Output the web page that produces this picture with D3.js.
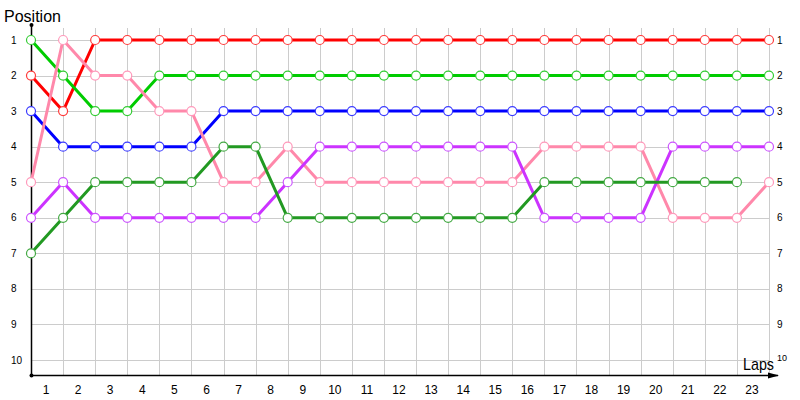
<!DOCTYPE html>
<html>
<head>
<meta charset="utf-8">
<script src="https://cdn.jsdelivr.net/npm/d3@7"></script>
<style>
  body { margin: 0; background: #fff; }
  text { font-family: "Liberation Sans", "DejaVu Sans", sans-serif; }
</style>
</head>
<body>
<div id="chart"></div>
<script>
// laps shown on the x axis, positions on the y axis
var laps = d3.range(1, 24);
var positions = d3.range(1, 11);

// position of each driver at laps 0..23 (null = no data)
var redPos       = [2, 3, 1, 1, 1, 1, 1, 1, 1, 1, 1, 1, 1, 1, 1, 1, 1, 1, 1, 1, 1, 1, 1, 1];
var greenPos     = [1, 2, 3, 3, 2, 2, 2, 2, 2, 2, 2, 2, 2, 2, 2, 2, 2, 2, 2, 2, 2, 2, 2, 2];
var bluePos      = [3, 4, 4, 4, 4, 4, 3, 3, 3, 3, 3, 3, 3, 3, 3, 3, 3, 3, 3, 3, 3, 3, 3, 3];
var pinkPos      = [5, 1, 2, 2, 3, 3, 5, 5, 4, 5, 5, 5, 5, 5, 5, 5, 4, 4, 4, 4, 6, 6, 6, 5];
var purplePos    = [6, 5, 6, 6, 6, 6, 6, 6, 5, 4, 4, 4, 4, 4, 4, 4, 6, 6, 6, 6, 4, 4, 4, 4];
var darkGreenPos = [7, 6, 5, 5, 5, 5, 4, 4, 6, 6, 6, 6, 6, 6, 6, 6, 5, 5, 5, 5, 5, 5, 5, null];

var series = [
    {name: "red", values: redPos, color: "#ff0000", marker: "#ff3b3b"},
    {name: "green", values: greenPos, color: "#00cc00", marker: "#33cc33"},
    {name: "blue", values: bluePos, color: "#0000ff", marker: "#3b3bff"},
    {name: "pink", values: pinkPos, color: "#ff88aa", marker: "#ff99bb"},
    {name: "purple", values: purplePos, color: "#cc33ff", marker: "#cc55ff"},
    {name: "darkgreen", values: darkGreenPos, color: "#229922", marker: "#44aa44"}
];

var width = 800, height = 400;
var svg = d3.select("#chart").append("svg")
    .attr("width", width)
    .attr("height", height);

var x = d3.scaleLinear().domain([0, 23]).range([31, 769]);
var y = d3.scaleLinear().domain([1, 10]).range([40, 360]);
var axisY = 375;

// grid
var grid = svg.append("g").attr("stroke", "#cccccc").attr("stroke-width", 1);
grid.selectAll("line.v")
    .data(laps)
    .enter().append("line")
    .attr("x1", d => Math.round(x(d)) + 0.5)
    .attr("x2", d => Math.round(x(d)) + 0.5)
    .attr("y1", 28)
    .attr("y2", axisY);
grid.selectAll("line.h")
    .data(positions)
    .enter().append("line")
    .attr("x1", x(0))
    .attr("x2", x(23))
    .attr("y1", d => Math.round(y(d)) + 0.5)
    .attr("y2", d => Math.round(y(d)) + 0.5);

// axes
svg.append("line")
    .attr("x1", 31.5).attr("x2", 31.5)
    .attr("y1", 25).attr("y2", axisY)
    .attr("stroke", "#000").attr("stroke-width", 1.5);
svg.append("line")
    .attr("x1", 31).attr("x2", 778)
    .attr("y1", axisY + 0.5).attr("y2", axisY + 0.5)
    .attr("stroke", "#000").attr("stroke-width", 1.5);
svg.append("path")
    .attr("d", "M768," + (axisY - 2.5) + "L779," + (axisY + 0.5) + "L768," + (axisY + 3.5) + "Z")
    .attr("fill", "#000");
svg.append("circle").attr("cx", 31.5).attr("cy", 25).attr("r", 2).attr("fill", "#000");
svg.append("circle").attr("cx", 31.5).attr("cy", axisY + 0.5).attr("r", 2).attr("fill", "#000");

// tick labels
svg.selectAll("text.lap")
    .data(laps)
    .enter().append("text")
    .attr("x", d => x(d - 0.5) - 1)
    .attr("y", 394)
    .attr("text-anchor", "middle")
    .attr("font-size", 12)
    .attr("fill", "#000")
    .text(d => d);
svg.selectAll("text.posL")
    .data(positions)
    .enter().append("text")
    .attr("x", 11)
    .attr("y", d => y(d) + 3.5)
    .attr("font-size", 10)
    .attr("fill", "#000")
    .text(d => d);
svg.selectAll("text.posR")
    .data(positions)
    .enter().append("text")
    .attr("x", 777)
    .attr("y", d => y(d) + 3.5 - (d === 10 ? 3 : 0))
    .attr("font-size", d => d === 10 ? 9 : 10)
    .attr("fill", "#000")
    .text(d => d);

svg.append("text").attr("x", 4).attr("y", 22)
    .attr("font-size", 17).attr("fill", "#000")
    .attr("textLength", 57).attr("lengthAdjust", "spacingAndGlyphs")
    .text("Position");
svg.append("text").attr("x", 743).attr("y", 370)
    .attr("font-size", 17).attr("fill", "#000")
    .attr("textLength", 31).attr("lengthAdjust", "spacingAndGlyphs")
    .text("Laps");

// lines and markers
var line = d3.line()
    .defined(d => d != null)
    .x((d, i) => x(i))
    .y(d => y(d));

series.forEach(function(s) {
    svg.append("path")
        .attr("d", line(s.values))
        .attr("fill", "none")
        .attr("stroke", s.color)
        .attr("stroke-width", 3)
        .attr("stroke-linejoin", "round");
});
series.forEach(function(s) {
    svg.append("g").selectAll("circle")
        .data(s.values.map((v, i) => ({lap: i, pos: v})).filter(d => d.pos != null))
        .enter().append("circle")
        .attr("cx", d => x(d.lap))
        .attr("cy", d => y(d.pos))
        .attr("r", 4.5)
        .attr("fill", "#fff")
        .attr("stroke", s.marker)
        .attr("stroke-width", 1.2);
});
</script>
</body>
</html>
